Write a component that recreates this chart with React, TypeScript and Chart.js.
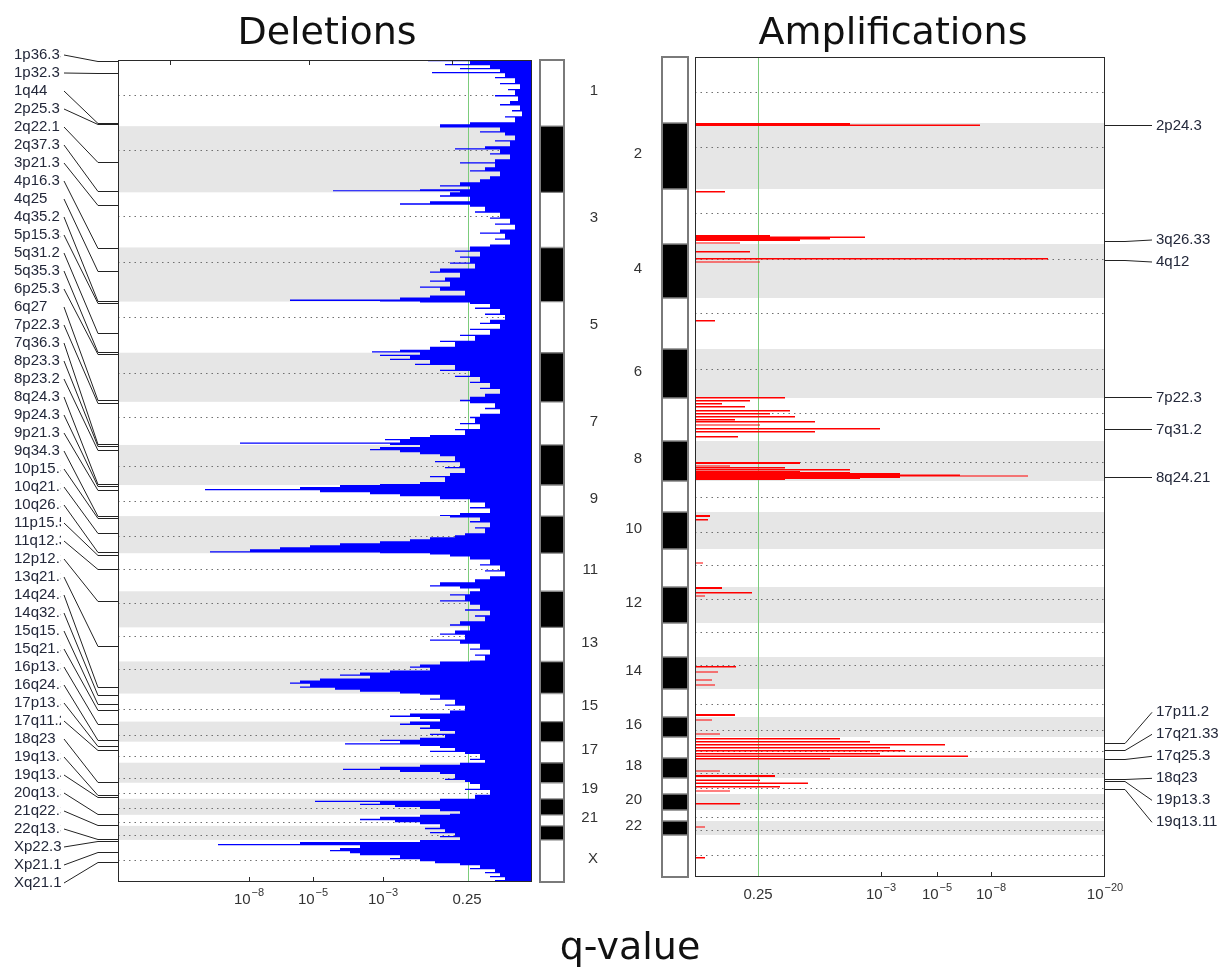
import React, { useEffect, useRef } from 'react';
import { Chart, registerables } from 'chart.js';

Chart.register(...registerables);

// ---------------- genome layout ----------------
const chromosomes = ['1', '2', '3', '4', '5', '6', '7', '8', '9', '10', '11', '12', '13', '14', '15', '16', '17', '18', '19', '20', '21', '22', 'X'];
const chromSizes = [66, 66, 55, 54, 51, 49, 43, 40, 31, 37, 38, 36, 34, 32, 28, 20, 21, 20, 16, 16, 11, 14, 42];
const centromeres = [35, 90, 156, 202, 256, 312, 356, 405, 440, 475, 508, 542, 575, 608, 647, 673, 694, 716, 731, 746, 760, 773, 798];

// ---------------- deletions: genomic position and score ----------------
const delPos = [
  0, 2, 4, 6, 8, 10, 12, 14, 17, 20, 23, 26, 29, 32, 35, 38, 41, 44, 47, 50, 53, 56, 59, 62, 64,
  66, 68, 71, 74, 77, 80, 83, 86, 88, 90, 93, 96, 99, 102, 104, 107, 110, 113, 116, 119, 122, 125, 127, 129, 130, 131,
  132, 135, 138, 141, 143, 145, 148, 151, 154, 157, 160, 163, 166, 169, 172, 175, 178, 181, 184, 186,
  187, 190, 193, 196, 199, 202, 205, 208, 211, 214, 217, 220, 223, 226, 229, 232, 235, 237, 239, 240.5,
  241, 242, 244, 247, 250, 253, 256, 259, 262, 265, 268, 271, 274, 277, 280, 283, 286, 289, 290.5,
  292, 294, 296, 298, 300, 303, 306, 309, 312, 315, 318, 321, 324, 327, 330, 333, 336, 339,
  341, 344, 347, 350, 353, 356, 359, 362, 365, 368, 371, 374, 376, 378, 380, 381.5, 383,
  384, 386, 388, 390, 392, 394, 397, 400, 403, 406, 409, 412, 415, 418, 421, 423,
  424, 426, 428, 430, 432, 434, 437, 440, 443, 446, 449, 452, 454,
  455, 457, 460, 463, 466, 469, 472, 474, 476, 478, 480, 482, 484, 486, 488, 490, 491.5,
  492, 494, 497, 500, 503, 506, 509, 512, 515, 518, 521, 524, 526, 528,
  530, 533, 536, 539, 542, 545, 548, 551, 554, 557, 560, 563,
  566, 569, 572, 575, 578, 581, 584, 587, 590, 593, 596, 599,
  600, 603, 605, 607, 609, 611, 613, 615, 617, 619, 621, 623, 625, 627, 629, 631,
  632, 634, 637, 640, 643, 646, 649, 652, 654, 656, 658,
  660, 662, 664, 666, 668, 670, 672, 674, 676, 678,
  680, 681.5, 683, 685, 687, 689, 691, 694, 697, 699,
  701, 703, 705, 707, 709, 711, 714, 717, 719,
  721, 724, 727, 730, 733,
  737, 739, 740.5, 742, 744, 746, 748, 750, 752,
  753, 755, 757, 759, 761,
  764, 766, 768, 770, 772, 774, 776,
  778, 780, 782, 784, 786, 788, 790, 792, 794, 796, 798, 800, 802, 804, 806, 808, 810, 812, 814, 816, 818,
];
const delScore = [
  1.04, 0.62, 0.87, 0.42, 0.72, 0.32, 1.0, 0.27, 0.37, 0.17, 0.32, 0.12, 0.24, 0.17, 0.37, 0.14, 0.22, 0.32, 0.12, 0.2, 0.1, 0.27, 0.17, 0.62, 0.92,
  0.92, 0.32, 0.52, 0.27, 0.17, 0.37, 0.22, 0.47, 0.77, 0.32, 0.42, 0.22, 0.37, 0.72, 0.37, 0.47, 0.62, 0.32, 0.42, 0.52, 0.72, 0.92, 0.62, 1.12, 1.99, 0.72,
  0.82, 0.92, 0.62, 1.02, 1.32, 0.62, 0.47, 0.57, 0.32, 0.42, 0.22, 0.37, 0.17, 0.32, 0.52, 0.27, 0.37, 0.22, 0.42, 0.62,
  0.62, 0.77, 0.52, 0.72, 0.62, 0.82, 0.57, 0.92, 1.02, 0.72, 0.87, 1.02, 0.82, 1.12, 0.92, 0.67, 1.02, 1.32, 2.42, 1.52,
  1.12, 0.62, 0.42, 0.57, 0.32, 0.47, 0.27, 0.42, 0.52, 0.32, 0.62, 0.42, 0.72, 0.57, 0.92, 0.77, 1.02, 1.32, 1.6,
  1.12, 1.52, 1.22, 1.42, 1.02, 1.17, 0.77, 0.92, 0.62, 0.77, 0.52, 0.62, 0.42, 0.52, 0.32, 0.47, 0.62, 0.72,
  0.62, 0.37, 0.47, 0.32, 0.52, 0.62, 0.57, 0.72, 0.52, 0.77, 0.67, 1.02, 1.22, 1.47, 1.32, 2.92, 1.42,
  1.12, 1.52, 1.62, 1.32, 1.12, 0.92, 0.77, 0.97, 0.72, 0.87, 0.67, 0.82, 1.02, 0.87, 1.12, 1.52,
  1.92, 2.32, 3.27, 2.12, 1.62, 1.32, 0.92, 0.62, 0.47, 0.62, 0.42, 0.72, 0.92,
  0.82, 0.52, 0.62, 0.42, 0.57, 0.47, 0.67, 0.77, 1.02, 1.22, 1.52, 1.92, 2.22, 2.52, 2.82, 3.22, 1.52,
  1.02, 0.82, 0.62, 0.42, 0.52, 0.32, 0.47, 0.27, 0.42, 0.57, 0.92, 1.02, 0.72, 0.52,
  0.62, 0.82, 0.67, 0.92, 0.62, 0.52, 0.67, 0.42, 0.57, 0.47, 0.72, 0.82,
  0.62, 0.77, 0.92, 0.67, 1.02, 0.72, 0.52, 0.62, 0.42, 0.57, 0.47, 0.62,
  0.92, 1.12, 1.22, 1.02, 1.42, 1.72, 1.92, 1.62, 2.12, 2.32, 2.42, 2.22, 2.32, 1.97, 1.72, 1.32,
  1.12, 0.92, 1.02, 0.77, 0.87, 0.67, 0.82, 1.22, 1.42, 1.12, 0.92,
  1.22, 1.32, 1.02, 1.12, 0.92, 0.77, 1.02, 0.87, 1.12, 1.52,
  1.32, 1.87, 1.12, 0.92, 0.77, 1.02, 0.67, 0.52, 0.62, 0.47,
  0.72, 1.12, 1.52, 1.89, 1.32, 0.92, 0.77, 0.87, 0.67,
  0.62, 0.52, 0.67, 0.42, 0.57,
  0.92, 2.17, 1.52, 1.72, 1.37, 1.12, 0.92, 0.72, 0.82,
  1.12, 1.52, 1.72, 1.37, 1.12,
  0.92, 1.07, 0.87, 1.02, 0.77, 0.92, 0.72,
  1.12, 2.32, 3.14, 1.72, 1.92, 2.02, 1.82, 1.72, 1.32, 1.42, 1.12, 0.97, 0.72, 0.52, 0.62, 0.37, 0.47, 0.32, 0.42, 0.27, 0.37,
];

// ---------------- amplifications (segments) ----------------
const ampStart = [66, 67.5, 134, 178, 179.5, 181, 182.5, 185.5, 194, 201, 204.5, 263, 340, 343, 346, 349, 353, 356, 359, 362, 364, 367.5, 371, 374, 379, 405, 408.5, 410, 412, 414, 415, 416, 417.5, 418.5, 419.5, 421, 422, 458, 462, 505.5, 530, 535, 538.5, 609, 614.5, 622.5, 627.5, 657, 662.5, 676.5, 681, 684, 687, 690, 693, 696, 698.5, 701, 713.5, 718, 722.5, 725.5, 729, 733.5, 746, 769.5, 800];
const ampEnd = [67.5, 69, 135.5, 179.5, 181, 182.5, 184, 186.5, 195.5, 202.5, 205.5, 264.5, 341.5, 344.5, 347.5, 350.5, 354.5, 357.5, 360.5, 363.5, 365.5, 368.5, 372.5, 375.5, 380.5, 407, 409.5, 411.5, 413.5, 415, 416, 417.5, 418.5, 419.5, 421, 422, 423, 460, 463.5, 506.5, 532, 536.5, 539.5, 610.5, 615.5, 623.5, 628.5, 659, 663.5, 677.5, 682.5, 685.5, 688.5, 691.5, 694.5, 697.5, 700, 702.5, 714.5, 720, 724, 727, 730.5, 734.5, 747.5, 770.5, 801.5];
const ampScore = [1.55, 2.85, 0.3, 0.75, 1.7, 1.35, 1.05, 0.45, 0.55, 3.53, 0.65, 0.2, 0.9, 0.55, 0.27, 0.5, 0.95, 0.75, 1.0, 0.4, 1.2, 0.65, 1.85, 1.2, 0.43, 1.05, 0.35, 0.9, 1.55, 1.05, 1.55, 2.05, 2.65, 3.33, 2.05, 1.65, 0.9, 0.15, 0.13, 0.08, 0.27, 0.57, 0.1, 0.41, 0.23, 0.17, 0.2, 0.4, 0.17, 0.25, 1.45, 1.75, 2.5, 1.95, 2.1, 1.85, 2.73, 1.35, 0.25, 0.8, 0.65, 1.13, 0.85, 0.35, 0.45, 0.1, 0.1];

// ---------------- peak annotations ----------------
const delPeakLabels = ['1p36.33', '1p32.3', '1q44', '2p25.3', '2q22.1', '2q37.3', '3p21.31', '4p16.3', '4q25', '4q35.2', '5p15.33', '5q31.2', '5q35.3', '6p25.3', '6q27', '7p22.3', '7q36.3', '8p23.3', '8p23.2', '8q24.3', '9p24.3', '9p21.3', '9q34.3', '10p15.3', '10q21.3', '10q26.3', '11p15.5', '11q12.3', '12p12.3', '13q21.33', '14q24.3', '14q32.33', '15q15.1', '15q21.3', '16p13.3', '16q24.3', '17p13.3', '17q11.2', '18q23', '19q13.33', '19q13.42', '20q13.33', '21q22.3', '22q13.33', 'Xp22.33', 'Xp21.1', 'Xq21.1'];
const delPeakPos = [1, 13, 63, 64, 102, 131, 145, 188, 210, 240, 242, 272, 291, 293, 339, 342, 383, 385, 389, 423, 425, 429, 455, 457, 472, 491, 494, 508, 540, 585, 625, 633, 642, 648, 662, 678, 684, 688, 720, 733, 735, 752, 763, 777, 779, 790, 800];
const ampPeakLabels = ['2p24.3', '3q26.33', '4q12', '7p22.3', '7q31.2', '8q24.21', '17p11.2', '17q21.33', '17q25.3', '18q23', '19p13.3', '19q13.11'];
const ampPeakPos = [68, 184, 203, 340, 372, 420, 686, 693, 702, 722, 724, 732];

// ---------------- axes ----------------
const delMax = 4.14;
const ampMax = 4.1;
const delTickValues = [2.83, 2.19, 1.49, 0.65];
const delTickLabels = ['10^-8', '10^-5', '10^-3', '0.25'];
const delTickMarks = [2.83, 2.19, 1.49];
const delTopTickMarks = [3.62, 2.23, 0.8];
const ampTickValues = [0.63, 1.86, 2.42, 2.96, 4.1];
const ampTickLabels = ['0.25', '10^-3', '10^-5', '10^-8', '10^-20'];
const ampTickMarks = [1.86, 2.42, 2.96];
const delThreshold = 0.64;
const ampThreshold = 0.63;

const chromStarts: number[] = [];
chromSizes.reduce((acc, s) => { chromStarts.push(acc); return acc + s; }, 0);
const genomeLength = chromSizes.reduce((a, b) => a + b, 0);

const FONT = '"Liberation Sans", Arial, Helvetica, sans-serif';
const LINE_T = 1.3; // drawn thickness of one profile line, in genome units

// each reading is drawn as a thin line at its own score; the rest of its
// interval keeps the lower of this score and the following one
function buildDelPoints() {
  const pts: { x: number; y: number }[] = [];
  const n = Math.min(delPos.length, delScore.length);
  for (let i = 0; i < n; i++) {
    const start = delPos[i];
    const end = i + 1 < n ? delPos[i + 1] : genomeLength;
    const t = Math.min(LINE_T, end - start);
    const low = i + 1 < n ? Math.min(delScore[i], delScore[i + 1]) : delScore[i];
    pts.push({ x: delScore[i], y: start });
    pts.push({ x: delScore[i], y: start + t });
    if (end - start > t) {
      pts.push({ x: low, y: start + t });
      pts.push({ x: low, y: end });
    }
  }
  return pts;
}

function buildAmpPoints() {
  const pts: { x: number; y: number }[] = [{ x: 0, y: 0 }];
  for (let i = 0; i < ampStart.length; i++) {
    pts.push({ x: 0, y: ampStart[i] });
    pts.push({ x: ampScore[i], y: ampStart[i] });
    pts.push({ x: ampScore[i], y: ampEnd[i] });
    pts.push({ x: 0, y: ampEnd[i] });
  }
  pts.push({ x: 0, y: genomeLength });
  return pts;
}

function drawSupLabel(ctx: CanvasRenderingContext2D, label: string, cx: number, baseline: number) {
  const parts = label.split('^');
  const base = parts[0];
  const exp = parts[1] ? parts[1].replace('-', '\u2212') : '';
  ctx.font = `15px ${FONT}`;
  const bw = ctx.measureText(base).width;
  ctx.font = `11px ${FONT}`;
  const ew = exp ? ctx.measureText(exp).width + 1 : 0;
  const x0 = cx - (bw + ew) / 2;
  ctx.textAlign = 'left';
  ctx.textBaseline = 'alphabetic';
  ctx.font = `15px ${FONT}`;
  ctx.fillText(base, x0, baseline);
  if (exp) {
    ctx.font = `11px ${FONT}`;
    ctx.fillText(exp, x0 + bw + 1, baseline - 8);
  }
}

function spreadLabels(targets: number[], gap: number) {
  const groups = targets.map((t) => ({ n: 1, sum: t, start: t }));
  let changed = true;
  while (changed) {
    changed = false;
    for (let i = 0; i < groups.length - 1; i++) {
      const a = groups[i];
      const b = groups[i + 1];
      if (a.start + a.n * gap > b.start) {
        const n = a.n + b.n;
        const sum = a.sum + b.sum;
        groups.splice(i, 2, { n, sum, start: sum / n - ((n - 1) / 2) * gap });
        changed = true;
        break;
      }
    }
  }
  const out: number[] = [];
  groups.forEach((g) => { for (let k = 0; k < g.n; k++) out.push(g.start + k * gap); });
  return out;
}

function panelPlugin(kind: 'del' | 'amp') {
  return {
    id: 'panel-' + kind,
    beforeDatasetsDraw(chart: any) {
      const { ctx, chartArea: a, scales } = chart;
      const y = scales.y;
      const x = scales.x;
      ctx.save();
      ctx.fillStyle = '#e6e6e6';
      chromStarts.forEach((s, i) => {
        if (i % 2 === 1) {
          const y0 = y.getPixelForValue(s);
          const y1 = y.getPixelForValue(s + chromSizes[i]);
          ctx.fillRect(a.left, y0, a.right - a.left, y1 - y0);
        }
      });
      ctx.strokeStyle = '#707070';
      ctx.lineWidth = 1;
      ctx.setLineDash([1.5, 4]);
      centromeres.forEach((c) => {
        const yy = Math.round(y.getPixelForValue(c)) + 0.5;
        ctx.beginPath();
        ctx.moveTo(a.left, yy);
        ctx.lineTo(a.right, yy);
        ctx.stroke();
      });
      ctx.setLineDash([]);
      ctx.strokeStyle = '#7ccc7c';
      const gx = Math.round(x.getPixelForValue(kind === 'del' ? delThreshold : ampThreshold)) + 0.5;
      ctx.beginPath();
      ctx.moveTo(gx, a.top);
      ctx.lineTo(gx, a.bottom);
      ctx.stroke();
      ctx.restore();
    },
    afterDatasetsDraw(chart: any) {
      const { ctx, chartArea: a, scales } = chart;
      const x = scales.x;
      const y = scales.y;
      ctx.save();
      ctx.strokeStyle = '#2a2a2a';
      ctx.lineWidth = 1;
      ctx.strokeRect(a.left + 0.5, a.top + 0.5, a.right - a.left - 1, a.bottom - a.top - 1);
      const marks = kind === 'del' ? delTickMarks : ampTickMarks;
      marks.forEach((v) => {
        const px = Math.round(x.getPixelForValue(v)) + 0.5;
        ctx.beginPath();
        ctx.moveTo(px, a.bottom);
        ctx.lineTo(px, a.bottom - 5);
        ctx.stroke();
      });
      if (kind === 'del') {
        delTopTickMarks.forEach((v) => {
          const px = Math.round(x.getPixelForValue(v)) + 0.5;
          ctx.beginPath();
          ctx.moveTo(px, a.top);
          ctx.lineTo(px, a.top + 5);
          ctx.stroke();
        });
      }
      ctx.fillStyle = '#333';
      const tv = kind === 'del' ? delTickValues : ampTickValues;
      const tl = kind === 'del' ? delTickLabels : ampTickLabels;
      tv.forEach((v, i) => drawSupLabel(ctx, tl[i], x.getPixelForValue(v), a.bottom + 22));

      // peak annotations with leader lines
      ctx.strokeStyle = '#222';
      ctx.fillStyle = '#23283a';
      ctx.font = `15px ${FONT}`;
      ctx.textBaseline = 'middle';
      if (kind === 'del') {
        const n = delPeakLabels.length;
        const top = a.top - 5;
        const step = (a.bottom + 1 - top) / (n - 1);
        for (let i = 0; i < n; i++) {
          const ly = top + i * step;
          const ty = Math.round(y.getPixelForValue(delPeakPos[i])) + 0.5;
          ctx.beginPath();
          ctx.moveTo(a.left - 54, ly);
          ctx.lineTo(a.left - 20, ty);
          ctx.lineTo(a.left, ty);
          ctx.stroke();
        }
        ctx.save();
        ctx.beginPath();
        ctx.rect(0, 0, a.left - 57, chart.height);
        ctx.clip();
        ctx.textAlign = 'left';
        for (let i = 0; i < n; i++) {
          ctx.fillText(delPeakLabels[i], a.left - 104, top + i * step);
        }
        ctx.restore();
      } else {
        const targets = ampPeakPos.map((p) => Math.round(y.getPixelForValue(p)) + 0.5);
        const labelsY = spreadLabels(targets, 22);
        ctx.textAlign = 'left';
        targets.forEach((ty, i) => {
          ctx.beginPath();
          ctx.moveTo(a.right, ty);
          ctx.lineTo(a.right + 20, ty);
          ctx.lineTo(a.right + 47, labelsY[i]);
          ctx.stroke();
          ctx.fillText(ampPeakLabels[i], a.right + 51, labelsY[i]);
        });
      }
      ctx.restore();
    },
  };
}

function makePanelConfig(kind: 'del' | 'amp', padding: any) {
  const isDel = kind === 'del';
  return {
    type: 'line',
    data: {
      datasets: [
        {
          label: isDel ? 'Deletions' : 'Amplifications',
          data: isDel ? buildDelPoints() : buildAmpPoints(),
          fill: 'origin',
          backgroundColor: isDel ? '#0000ff' : '#ff0000',
          borderColor: 'rgba(0,0,0,0)',
          borderWidth: 0,
          pointRadius: 0,
          tension: 0,
        },
      ],
    },
    options: {
      indexAxis: 'y',
      animation: false,
      responsive: false,
      maintainAspectRatio: false,
      events: [],
      layout: { padding },
      plugins: { legend: { display: false }, tooltip: { enabled: false }, title: { display: false } },
      scales: {
        x: { type: 'linear', min: 0, max: isDel ? delMax : ampMax, reverse: isDel, display: false },
        y: { type: 'linear', min: 0, max: genomeLength, reverse: true, display: false },
      },
    },
    plugins: [panelPlugin(kind)],
  };
}

function makeBandConfig(side: 'left' | 'right', padding: any) {
  const parity = side === 'left' ? 0 : 1;
  return {
    type: 'bar',
    data: {
      labels: ['ideogram'],
      datasets: chromosomes.map((c, i) => ({
        label: 'chr' + c,
        data: [[chromStarts[i], chromStarts[i] + chromSizes[i]]],
        backgroundColor: i % 2 === 1 ? '#000000' : '#ffffff',
        borderColor: '#858585',
        borderWidth: 1,
        borderSkipped: false,
        grouped: false,
        barPercentage: 1,
        categoryPercentage: 1,
      })),
    },
    options: {
      animation: false,
      responsive: false,
      maintainAspectRatio: false,
      events: [],
      layout: { padding },
      plugins: { legend: { display: false }, tooltip: { enabled: false } },
      scales: {
        x: { display: false },
        y: { type: 'linear', min: 0, max: genomeLength, reverse: true, display: false },
      },
    },
    plugins: [
      {
        id: 'band-' + side,
        afterDatasetsDraw(chart: any) {
          const { ctx, chartArea: a, scales } = chart;
          const y = scales.y;
          ctx.save();
          ctx.strokeStyle = '#7a7a7a';
          ctx.lineWidth = 2;
          ctx.strokeRect(a.left, a.top, a.right - a.left, a.bottom - a.top);
          ctx.fillStyle = '#333';
          ctx.font = `15px ${FONT}`;
          ctx.textAlign = 'right';
          ctx.textBaseline = 'middle';
          chromosomes.forEach((c, i) => {
            if (i % 2 !== parity) return;
            const ym = y.getPixelForValue(chromStarts[i] + chromSizes[i] / 2) - 2;
            const xx = side === 'left' ? a.right + 34 : a.left - 20;
            ctx.fillText(c, xx, ym);
          });
          ctx.restore();
        },
      },
    ],
  };
}

function ChartCanvas(props: { left: number; width: number; height: number; make: () => any }) {
  const ref = useRef<HTMLCanvasElement | null>(null);
  useEffect(() => {
    const chart = new Chart(ref.current as HTMLCanvasElement, props.make());
    return () => chart.destroy();
  }, []);
  return (
    <canvas
      ref={ref}
      width={props.width}
      height={props.height}
      style={{ position: 'absolute', left: props.left, top: 0, width: props.width, height: props.height }}
    />
  );
}

const titleStyle = (left: number, top: number): React.CSSProperties => ({
  position: 'absolute',
  left,
  top,
  width: 400,
  textAlign: 'center',
  fontFamily: '"DejaVu Sans", Verdana, sans-serif',
  fontSize: 38,
  lineHeight: '38px',
  color: '#111',
  whiteSpace: 'nowrap',
});

export default function App() {
  const H = 974;
  return (
    <div style={{ position: 'absolute', left: 0, top: 0, width: 1225, height: H, background: '#fff', overflow: 'hidden' }}>
      <ChartCanvas left={0} width={545} height={H} make={() => makePanelConfig('del', { left: 118, right: 13, top: 60, bottom: 92 })} />
      <ChartCanvas left={530} width={100} height={H} make={() => makeBandConfig('left', { left: 10, right: 66, top: 60, bottom: 92 })} />
      <ChartCanvas left={600} width={100} height={H} make={() => makeBandConfig('right', { left: 62, right: 12, top: 57, bottom: 97 })} />
      <ChartCanvas left={690} width={535} height={H} make={() => makePanelConfig('amp', { left: 5, right: 120, top: 57, bottom: 97 })} />
      <div style={titleStyle(127, 12)}>Deletions</div>
      <div style={titleStyle(693, 12)}>Amplifications</div>
      <div style={titleStyle(430, 927)}>q-value</div>
    </div>
  );
}
